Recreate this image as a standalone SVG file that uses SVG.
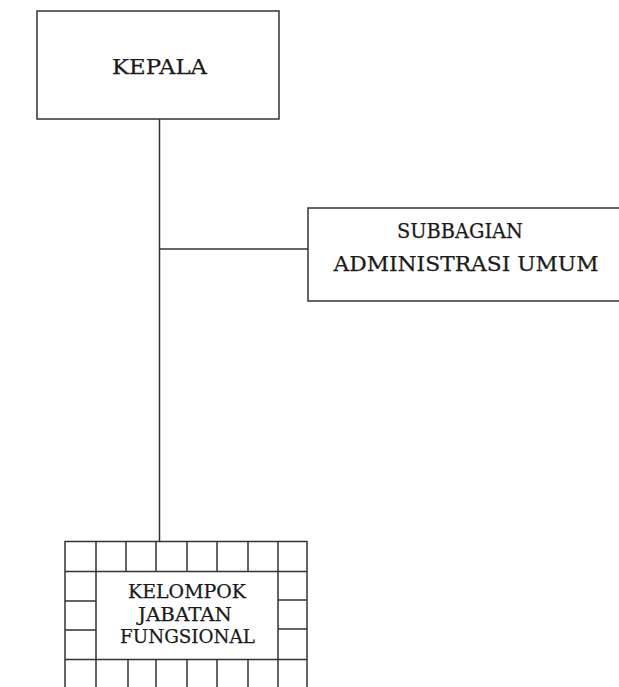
<svg xmlns="http://www.w3.org/2000/svg" width="619" height="687" viewBox="0 0 619 687">
<style>
.box{fill:#fff;stroke:#333;stroke-width:1.5}
.ln{fill:none;stroke:#333;stroke-width:1.5}
.t{font-family:"DejaVu Serif","Liberation Serif",serif;font-size:19.5px;fill:#1a1a1a;stroke:#1a1a1a;stroke-width:0.25;text-anchor:middle}
.s{font-size:18px}
</style>
<rect width="619" height="687" fill="#fff"/>
<g id="connectors">
<line class="ln" x1="159.5" y1="119" x2="159.5" y2="541"/>
<line class="ln" x1="159.5" y1="249" x2="308" y2="249"/>
</g>
<g id="kepala">
<rect class="box" x="37" y="11" width="242" height="108"/>
<text class="t" x="159.5" y="74" textLength="95" lengthAdjust="spacingAndGlyphs">KEPALA</text>
</g>
<g id="subbagian">
<rect class="box" x="308" y="208" width="320" height="93"/>
<text class="t" x="460" y="238" textLength="126" lengthAdjust="spacingAndGlyphs">SUBBAGIAN</text>
<text class="t" x="466" y="271" textLength="265" lengthAdjust="spacingAndGlyphs">ADMINISTRASI UMUM</text>
</g>
<g id="kelompok">
<path class="ln" d="M65 700V541.5H307V700 M65 571.5H307 M65 659.5H307 M96 541.5V700 M126 541.5V571.5 M156 541.5V571.5 M187 541.5V571.5 M217 541.5V571.5 M248 541.5V571.5 M278 541.5V700 M128 659.5V700 M156 659.5V700 M187 659.5V700 M217 659.5V700 M248 659.5V700 M65 601H96 M65 630H96 M278 600H307 M278 629H307"/>
<text class="t s" x="187" y="598" textLength="118" lengthAdjust="spacingAndGlyphs">KELOMPOK</text>
<text class="t s" x="185" y="621" textLength="94" lengthAdjust="spacingAndGlyphs">JABATAN</text>
<text class="t s" x="187.5" y="643" textLength="135" lengthAdjust="spacingAndGlyphs">FUNGSIONAL</text>
</g>
</svg>
